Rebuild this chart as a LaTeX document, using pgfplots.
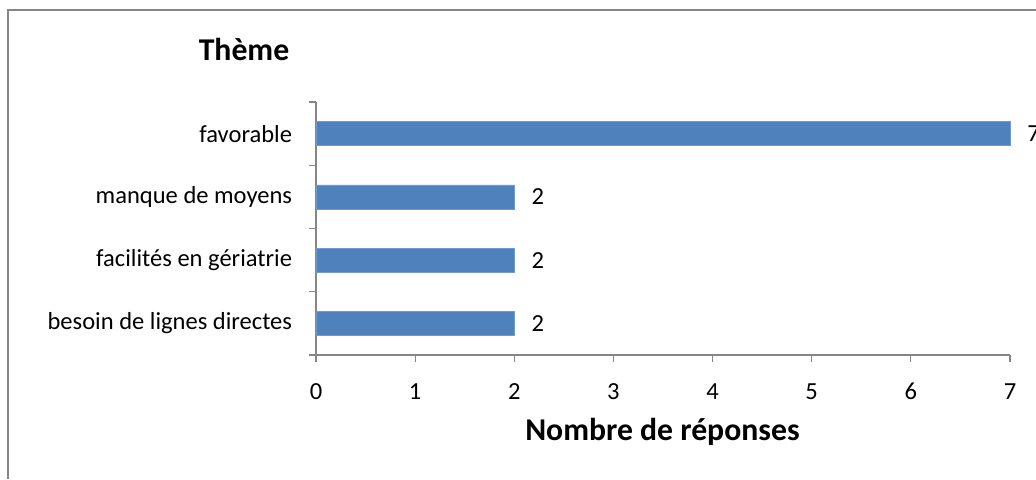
\documentclass[border=0pt]{standalone}
\usepackage{pgfplots}
\pgfplotsset{compat=1.18}
\usepackage{fontspec}
\setmainfont{Carlito}
\definecolor{barblue}{HTML}{4F81BD}
\definecolor{axgray}{HTML}{868686}
\begin{document}
\begin{tikzpicture}
\useasboundingbox (-237pt,-93pt) rectangle (540pt,266.25pt);
\draw[axgray, line width=1.1pt] (-231pt,-93pt) -- (-231pt,258.75pt) -- (545pt,258.75pt);
\begin{axis}[
  at={(0,0)}, anchor=south west,
  scale only axis,
  width=520.5pt, height=189.75pt,
  xbar, bar width=18pt,
  xmin=0, xmax=7,
  ymin=-0.5, ymax=3.5,
  axis x line*=bottom, axis y line*=left,
  axis line style={axgray, line width=0.9pt},
  xtick={0,...,7},
  ytick={0,1,2,3},
  yticklabels={besoin de lignes directes, facilités en gériatrie, manque de moyens, favorable},
  minor ytick={-0.5,0.5,1.5,2.5,3.5},
  major tick length=5pt,
  minor tick length=5pt,
  tick align=outside,
  tick style={axgray, line width=0.9pt},
  major y tick style={draw=none},
  /pgf/number format/assume math mode=true,
  tick label style={font=\fontsize{18.4pt}{20pt}\selectfont},
  xticklabel style={anchor=base, yshift=-28.5pt},
  yticklabel style={anchor=east, inner sep=0pt, xshift=-12.75pt},
  xlabel={Nombre de réponses},
  xlabel style={font=\fontsize{23.8pt}{26pt}\selectfont\bfseries, at={(axis description cs:0.4993,0)}, anchor=base, yshift=-63.75pt},
  ylabel={Thème},
  ylabel style={font=\fontsize{23.8pt}{26pt}\selectfont\bfseries, rotate=-90, at={(axis description cs:-0.1037,1.166)}, anchor=base},
  nodes near coords,
  nodes near coords style={font=\fontsize{18.4pt}{20pt}\selectfont, anchor=west, inner sep=0pt, xshift=12.75pt, black},
  point meta=x,
  clip=false,
]
\addplot[fill=barblue, draw=barblue!80!white, line width=0.5pt] coordinates {(2,0) (2,1) (2,2) (7,3)};
\end{axis}
\end{tikzpicture}
\end{document}
